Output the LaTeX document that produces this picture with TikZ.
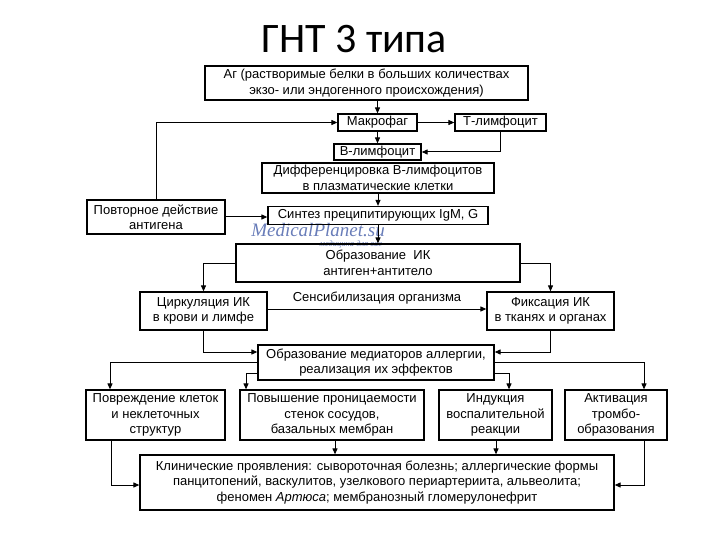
\documentclass[tikz,border=0pt]{standalone}
\usepackage{fontspec}
\setmainfont{Liberation Sans}
\newfontfamily\titlefont{Carlito}
\newfontfamily\wmfont{Liberation Serif}
\usetikzlibrary{arrows.meta,calc}
\definecolor{wmblue}{RGB}{105,125,185}
\newcommand\bxf{\fontsize{13}{15.5}\selectfont}
\begin{document}
\begin{tikzpicture}[x=1pt,y=-1pt,
  box/.style={draw, line width=1.25pt, align=center, inner sep=1pt, font=\bxf},
  arr/.style={line width=1pt, -{Triangle[length=6pt,width=5pt]}},
  wm/.style={text=wmblue, inner sep=0pt}]
\useasboundingbox (0,0) rectangle (720,540);
\node[anchor=base, font=\titlefont\fontsize{42}{46}\selectfont] (title) at (354,53) {ГНТ 3 типа};
% watermark
\node[wm, font=\wmfont\itshape\fontsize{19}{21}\selectfont] (wm1) at (318,230) {MedicalPlanet.su};
\node[wm, font=\wmfont\itshape\fontsize{8.5}{9}\selectfont, anchor=base] (wm2) at (346,246) {— медицина для вас};
% boxes
\node[box, minimum width=323pt, minimum height=34pt] (ag) at (366.5,83) {Аг (растворимые белки в больших количествах\\экзо- или эндогенного происхождения)};
\node[box, minimum width=79pt, minimum height=17pt] (mak) at (377.5,122.5) {Макрофаг};
\node[box, minimum width=91pt, minimum height=17pt] (t) at (500.5,122.5) {Т-лимфоцит};
\node[box, minimum width=87pt, minimum height=16pt] (b) at (377.5,152) {В-лимфоцит};
\node[box, minimum width=232pt, minimum height=30pt] (diff) at (378,178) {Дифференцировка В-лимфоцитов\\в плазматические клетки};
\node[box, minimum width=220pt, minimum height=18pt] (sin) at (378,215.5) {Синтез преципитирующих IgM, G};
\node[box, minimum width=138pt, minimum height=34pt] (pov) at (156,217) {Повторное действие\\антигена};
\node[box, minimum width=284pt, minimum height=38pt] (ik) at (378,263) {Образование~~ИК\\антиген+антитело};
\node[box, minimum width=127pt, minimum height=38pt] (cir) at (203.5,311) {Циркуляция ИК\\в крови и лимфе};
\node[box, minimum width=127pt, minimum height=38pt] (fix) at (550.5,311) {Фиксация ИК\\в тканях и органах};
\node[box, minimum width=236pt, minimum height=35pt] (med) at (376,362.5) {Образование медиаторов аллергии,\\реализация их эффектов};
\node[box, minimum width=139pt, minimum height=50pt] (b1) at (155.5,415) {Повреждение клеток\\и неклеточных\\структур};
\node[box, minimum width=184pt, minimum height=50pt] (b2) at (332,415) {Повышение проницаемости\\стенок сосудов,\\базальных мембран};
\node[box, minimum width=113pt, minimum height=50pt] (b3) at (495.5,415) {Индукция\\воспалительной\\реакции};
\node[box, minimum width=102pt, minimum height=50pt] (b4) at (616,415) {Активация\\тромбо-\\образования};
\node[box, minimum width=474pt, minimum height=55pt] (klin) at (377,482.5) {Клинические проявления: сывороточная болезнь; аллергические формы\\панцитопений, васкулитов, узелкового периартериита, альвеолита;\\феномен \textit{Артюса}; мембранозный гломерулонефрит};
% connectors
\draw[arr] (mak.north |- ag.south) -- (mak.north);
\draw[arr] (mak.east) -- (t.west);
\draw[arr] (pov.north) |- (mak.west);
\draw[arr] (mak.south) -- (b.north);
\draw[arr] (t.south) |- (b.east);
\draw[arr] (diff.south) -- (sin.north);
\draw[arr] (pov.east) -- (pov.east -| sin.west);
\draw[arr] (sin.south) -- (ik.north);
\draw[arr] (ik.west) -| (cir.north);
\draw[arr] (ik.east) -| (fix.north);
\draw[arr] (cir.east |- 0,309) -- (fix.west |- 0,309) node[midway, above=1pt, font=\bxf] (sens) {Сенсибилизация организма};
\draw[arr] (cir.south) |- (med.west |- 0,352);
\draw[arr] (fix.south) |- (med.east |- 0,352);
\draw[arr] (med.west |- 0,362) -| (b1.north -| 110,0);
\draw[arr] (med.west |- 0,373) -| (b2.north -| 246,0);
\draw[arr] (med.east |- 0,373) -| (b3.north -| 509,0);
\draw[arr] (med.east |- 0,362) -| (b4.north -| 644,0);
\draw[arr] (b1.south -| 111,0) |- (klin.west |- 0,485);
\draw[arr] (b2.south -| 335,0) -- (klin.north -| 335,0);
\draw[arr] (b3.south -| 496,0) -- (klin.north -| 496,0);
\draw[arr] (b4.south -| 644,0) |- (klin.east |- 0,485);
\end{tikzpicture}
\end{document}
